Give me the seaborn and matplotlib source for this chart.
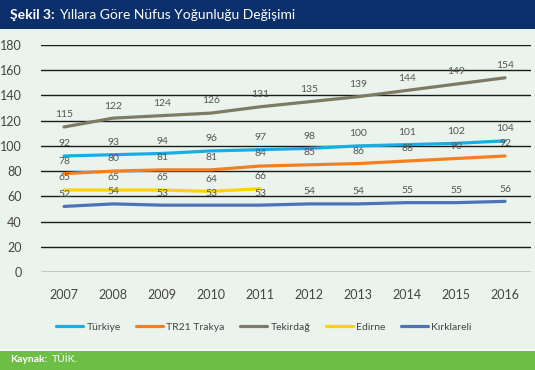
import pandas as pd
import matplotlib.pyplot as plt
import seaborn as sns
from matplotlib.patches import Rectangle

# Veriler: yıllara göre nüfus yoğunluğu
years = [2007, 2008, 2009, 2010, 2011, 2012, 2013, 2014, 2015, 2016]
turkiye = [92, 93, 94, 96, 97, 98, 100, 101, 102, 104]
tr21 = [78, 80, 81, 81, 84, 85, 86, 88, 90, 92]
tekirdag = [115, 122, 124, 126, 131, 135, 139, 144, 149, 154]
edirne = [65, 65, 65, 64, 66, None, None, None, None, None]
kirklareli = [52, 54, 53, 53, 53, 54, 54, 55, 55, 56]

series_names = ["Türkiye", "TR21 Trakya", "Tekirdağ", "Edirne", "Kırklareli"]
colors = ["#1AADE4", "#F47F20", "#7D7B63", "#FFD200", "#4F73B8"]

wide = pd.DataFrame({
    "Türkiye": turkiye,
    "TR21 Trakya": tr21,
    "Tekirdağ": tekirdag,
    "Edirne": edirne,
    "Kırklareli": kirklareli,
}, index=years)
wide.index.name = "Yıl"
df = wide.reset_index().melt(id_vars="Yıl", var_name="Seri", value_name="Değer").dropna()

sns.set_style("white")
plt.rcParams["font.family"] = ["Lato", "DejaVu Sans"]

bg = "#EAF4EC"
fig = plt.figure(figsize=(5.35, 3.70), dpi=100, facecolor=bg)
ax = fig.add_axes([41 / 535, 1 - 272 / 370, 490 / 535, (272 - 45) / 370])
ax.set_facecolor(bg)

sns.lineplot(data=df, x="Yıl", y="Değer", hue="Seri", hue_order=series_names,
             palette=colors, linewidth=2.3, ax=ax, legend=False)

# değer etiketleri
for name in series_names:
    s = wide[name].dropna()
    for yr, v in s.items():
        ax.annotate(f"{int(v)}", (yr, v), xytext=(0, 5.5), textcoords="offset points",
                    ha="center", va="bottom", fontsize=7.5, color="#555555")

ax.set_xlim(2007 - 0.47, 2016 + 0.53)
ax.set_ylim(0, 180)
ax.set_yticks(range(0, 181, 20))
ax.set_xticks(years)
ax.grid(axis="y", color="#1a1a1a", linewidth=1.0)
ax.set_axisbelow(True)
for sp in ax.spines.values():
    sp.set_visible(False)
ax.tick_params(axis="both", length=0, labelsize=9, labelcolor="#444444")
ax.tick_params(axis="y", pad=14)
ax.tick_params(axis="x", pad=12)
ax.set_xlabel("")
ax.set_ylabel("")

# lejant
handles = [plt.Line2D([0], [0], color=c, linewidth=2.3) for c in colors]
fig.legend(handles, series_names, loc="center", bbox_to_anchor=(264 / 535, 1 - 327 / 370),
           ncol=5, frameon=False, fontsize=7.5, handlelength=2.6, handletextpad=0.3,
           columnspacing=1.5, labelcolor="#444444")

# başlık şeridi
fig.patches.append(Rectangle((0, 1 - 29 / 370), 1, 29 / 370, transform=fig.transFigure,
                             facecolor="#0B2F6B", edgecolor="none", zorder=0))
fig.text(10 / 535, 1 - 15 / 370, "Şekil 3:", color="white", fontsize=10,
         fontweight="bold", va="center", ha="left")
fig.text(59 / 535, 1 - 15 / 370, "Yıllara Göre Nüfus Yoğunluğu Değişimi", color="white",
         fontsize=10, va="center", ha="left")

# kaynak şeridi
fig.patches.append(Rectangle((0, 0), 1, 19 / 370, transform=fig.transFigure,
                             facecolor="#6DBE45", edgecolor="none", zorder=0))
fig.patches.append(Rectangle((0, 19 / 370), 1, 2 / 370, transform=fig.transFigure,
                             facecolor="white", edgecolor="none", zorder=0))
fig.text(10 / 535, 10 / 370, "Kaynak:", color="white", fontsize=7.5,
         fontweight="bold", va="center", ha="left")
fig.text(52 / 535, 10 / 370, "TÜİK.", color="white", fontsize=7.5, va="center", ha="left")

fig.savefig("out.png", dpi=100, facecolor=bg)
